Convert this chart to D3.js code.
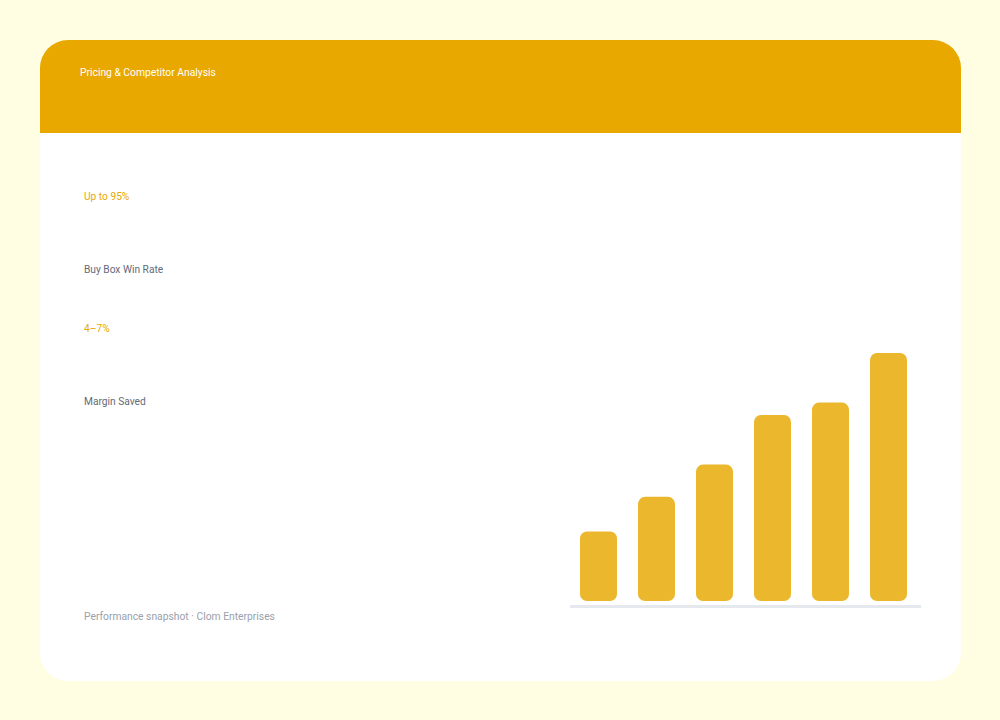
<!DOCTYPE html>
<html>
<head>
<meta charset="utf-8">
<script src="https://cdn.jsdelivr.net/npm/d3@7"></script>
<style>
  html, body { margin: 0; padding: 0; background: #fffee3; }
  svg { display: block; font-family: Roboto, "Noto Sans", sans-serif; }
</style>
</head>
<body>
<svg id="chart" width="1000" height="720"></svg>
<script>
// Chart data
var barLabels = ["W1", "W2", "W3", "W4", "W5", "W6"];
var barValues = [28, 42, 55, 75, 80, 100];
var statValues = ["Up to 95%", "4–7%"];
var statLabels = ["Buy Box Win Rate", "Margin Saved"];
var title = "Pricing & Competitor Analysis";
var footer = "Performance snapshot · Clom Enterprises";

var W = 1000, H = 720;
var card = { x: 40, y: 40, w: 921, h: 641, r: 28, header: 93 };

var svg = d3.select("#chart");

// Page background
svg.append("rect")
  .attr("width", W).attr("height", H)
  .attr("fill", "#fffee3");

// Card
svg.append("rect")
  .attr("x", card.x).attr("y", card.y)
  .attr("width", card.w).attr("height", card.h)
  .attr("rx", card.r)
  .attr("fill", "#ffffff");

// Header band, rounded only on top
var hx = card.x, hy = card.y, hw = card.w, hh = card.header, r = card.r;
svg.append("path")
  .attr("d", "M" + hx + "," + (hy + hh) +
    " V" + (hy + r) +
    " A" + r + "," + r + " 0 0 1 " + (hx + r) + "," + hy +
    " H" + (hx + hw - r) +
    " A" + r + "," + r + " 0 0 1 " + (hx + hw) + "," + (hy + r) +
    " V" + (hy + hh) + " Z")
  .attr("fill", "#e8a800");

svg.append("text")
  .attr("x", 80).attr("y", 76)
  .attr("fill", "#ffffff")
  .style("font-size", "10.3px")
  .text(title);

// Stats on the left
var stats = svg.append("g");
statValues.forEach(function(v, i) {
  var y0 = 200 + i * 132;
  stats.append("text")
    .attr("x", 84).attr("y", y0)
    .attr("fill", "#e8a800")
    .style("font-size", "10.2px")
    .text(v);
  stats.append("text")
    .attr("x", 84).attr("y", y0 + 73)
    .attr("fill", "#5f6b7a")
    .style("font-size", "10.2px")
    .text(statLabels[i]);
});

svg.append("text")
  .attr("x", 84).attr("y", 620)
  .attr("fill", "#9aa1ab")
  .style("font-size", "10.3px")
  .text(footer);

// Bar chart
var xScale = d3.scaleBand()
  .domain(barLabels)
  .range([580, 907])
  .paddingInner(0.362)
  .paddingOuter(0);

var yScale = d3.scaleLinear()
  .domain([0, d3.max(barValues)])
  .range([601, 353]);

svg.append("line")
  .attr("x1", 570).attr("x2", 921)
  .attr("y1", 606.5).attr("y2", 606.5)
  .attr("stroke", "#e5e8ec")
  .attr("stroke-width", 3);

svg.selectAll(".bar")
  .data(barValues)
  .enter()
  .append("rect")
  .attr("class", "bar")
  .attr("x", function(d, i) { return xScale(barLabels[i]); })
  .attr("y", function(d) { return yScale(d); })
  .attr("width", xScale.bandwidth())
  .attr("height", function(d) { return yScale(0) - yScale(d); })
  .attr("rx", 7)
  .attr("fill", "#ebb72d");
</script>
</body>
</html>
